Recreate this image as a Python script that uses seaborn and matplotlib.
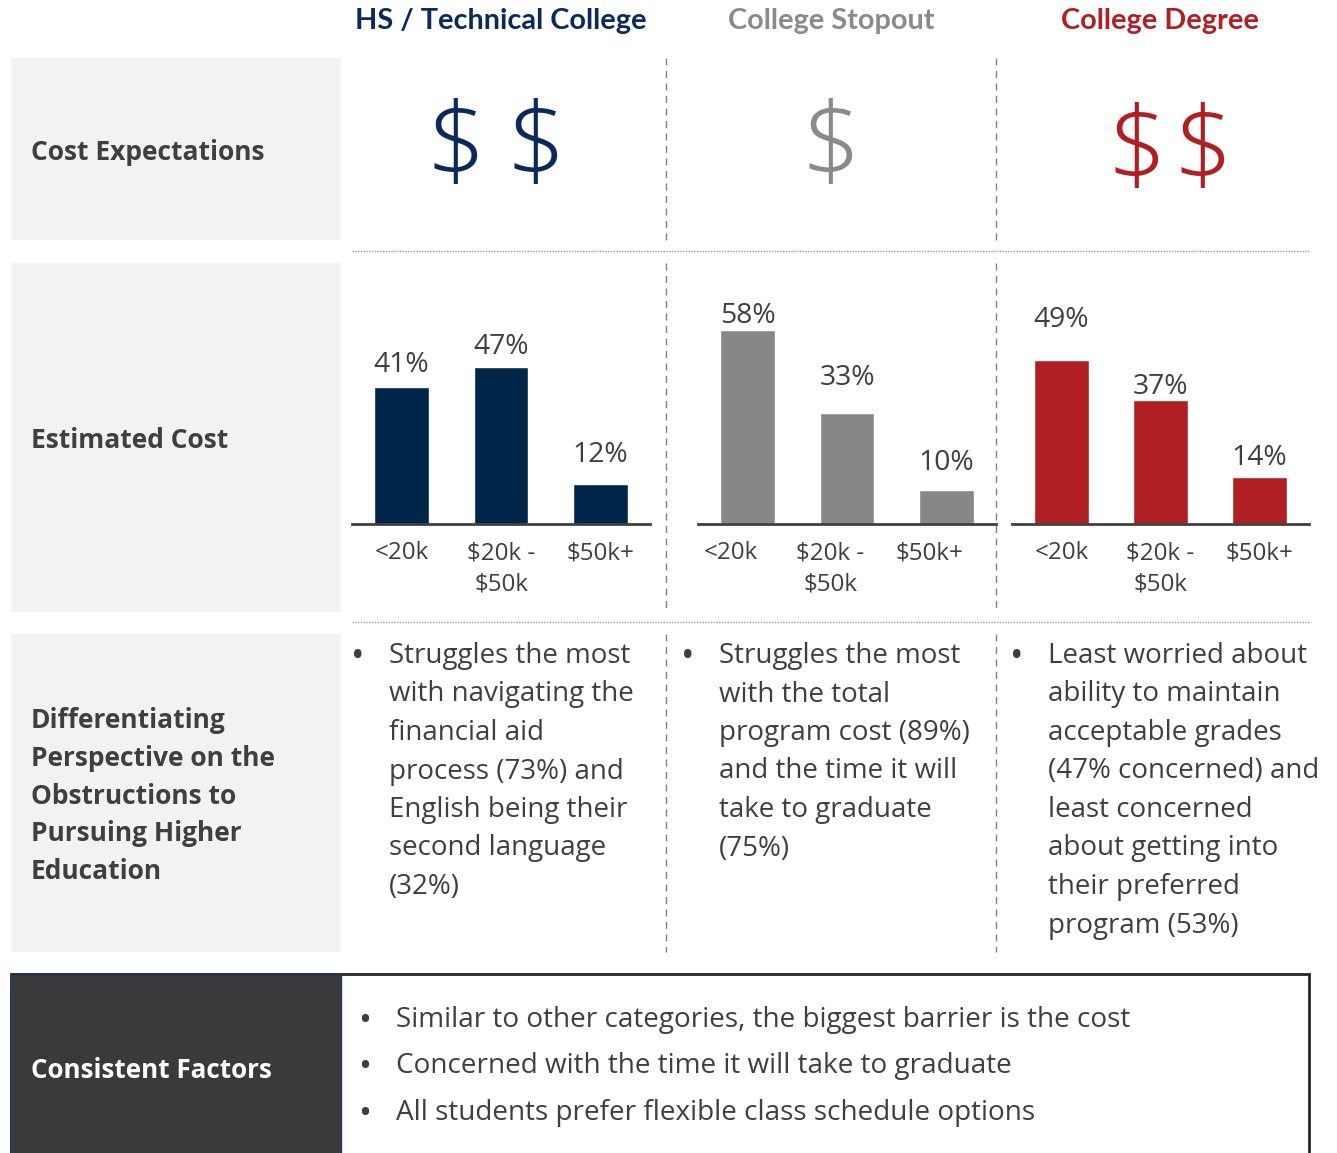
import matplotlib
matplotlib.use("Agg")
import matplotlib.pyplot as plt
from matplotlib.patches import Rectangle
import matplotlib.transforms as mtransforms
import seaborn as sns
import pandas as pd

sns.set_theme(style="white")
plt.rcParams['font.family'] = ['Open Sans', 'DejaVu Sans']

# ---------------- data ----------------
groups = ["HS / Technical College", "College Stopout", "College Degree"]
group_colors = ["#0B2A5B", "#8A8A8A", "#B01F24"]
bar_colors = ["#00264A", "#878886", "#B01F24"]
dollar_counts = [2, 1, 2]
cost_ranges = ["<20k", "$20k -\n$50k", "$50k+"]
hs_pct = [41, 47, 12]
stopout_pct = [58, 33, 10]
degree_pct = [49, 37, 14]
row_labels = ["Cost Expectations", "Estimated Cost",
              "Differentiating\nPerspective on the\nObstructions to\nPursuing Higher\nEducation"]
bottom_label = "Consistent Factors"
hs_bullet = ["Struggles the most", "with navigating the", "financial aid",
             "process (73%) and", "English being their", "second language", "(32%)"]
stopout_bullet = ["Struggles the most", "with the total", "program cost (89%)",
                  "and the time it will", "take to graduate", "(75%)"]
degree_bullet = ["Least worried about", "ability to maintain", "acceptable grades",
                 "(47% concerned) and", "least concerned", "about getting into",
                 "their preferred", "program (53%)"]
consistent = ["Similar to other categories, the biggest barrier is the cost",
              "Concerned with the time it will take to graduate",
              "All students prefer flexible class schedule options"]

# ---------------- layout ----------------
W, H = 1337, 1153
fig = plt.figure(figsize=(W / 100, H / 100), dpi=100)
bg = fig.add_axes([0, 0, 1, 1], zorder=0)
bg.set_xlim(0, W)
bg.set_ylim(H, 0)
bg.axis("off")

TXT = "#3F3F3F"
PANEL = "#F2F2F2"

# left grey panels
for (y0, y1) in [(58, 240), (263, 612), (634, 952)]:
    bg.add_patch(Rectangle((11, y0), 330, y1 - y0, facecolor=PANEL, edgecolor="none"))

# bottom box
bg.add_patch(Rectangle((11, 974), 1298, 200, facecolor="white", edgecolor="#262626", lw=2))
bg.add_patch(Rectangle((11, 975), 330, 200, facecolor="#3A3A3A", edgecolor="#1F3864", lw=1))

# dashed vertical separators
for x in [666, 996]:
    for (y0, y1) in [(58, 240), (263, 612), (634, 952)]:
        bg.plot([x, x], [y0, y1], color="#808080", lw=1, linestyle=(0, (5, 4)))
# dotted horizontal separators
for y in [251, 622]:
    bg.plot([352, 1309], [y, y], color="#9A9A9A", lw=1, linestyle=(0, (1, 1)))

# headers
header_x = [501, 831, 1160]
for gx, g, c in zip(header_x, groups, group_colors):
    bg.text(gx, 21, g, ha="center", va="center", fontsize=20.8, fontweight="bold",
            color=c, family=["Lato", "DejaVu Sans"])

# dollar signs
dollar_pos = [[456, 536], [831], [1137, 1203]]
dollar_y = [151, 151, 154]
for xs, c, n, yy in zip(dollar_pos, group_colors, dollar_counts, dollar_y):
    for x in xs[:n]:
        bg.text(x, yy, "$", ha="center", va="center", fontsize=76, color=c,
                fontweight="light")

# row labels
row_y = [152, 441, 796]
for y, lab in zip(row_y, row_labels):
    bg.text(31, y, lab, ha="left", va="center", fontsize=19, fontweight="bold",
            color=TXT, linespacing=1.52)
bg.text(31, 1070, bottom_label, ha="left", va="center", fontsize=18.7,
        fontweight="bold", color="white")

# bullets in columns
bullet_cols = [(358, 389, hs_bullet), (688, 719, stopout_bullet), (1017, 1048, degree_bullet)]
for bx, tx, lines in bullet_cols:
    bg.text(bx, 667, "•", ha="center", va="baseline", fontsize=26, color=TXT)
    for i, line in enumerate(lines):
        bg.text(tx, 663 + i * 38.5, line, ha="left", va="baseline", fontsize=20, color=TXT)

for i, line in enumerate(consistent):
    y = 1027 + i * 46.5
    bg.text(365, y + 4, "•", ha="center", va="baseline", fontsize=25, color=TXT)
    bg.text(396, y, line, ha="left", va="baseline", fontsize=20.1, color=TXT)

# bar charts
scale = 3.35  # px per percent
ymax = 70
label_offsets_px = [[14.5, 12.5, 21.5], [7, 28, 20], [33, 6, 11.7]]
tick_shift_px = [0, -17, 0]
bar_specs = [(352, 298, hs_pct, bar_colors[0]),
             (698, 298, stopout_pct, bar_colors[1]),
             (1012, 297, degree_pct, bar_colors[2])]
for k, (left, width, vals, col) in enumerate(bar_specs):
    ax = fig.add_axes([left / W, (H - 524) / H, width / W, ymax * scale / H], zorder=2)
    ax.patch.set_alpha(0)
    df = pd.DataFrame({"range": cost_ranges, "pct": vals})
    sns.barplot(data=df, x="range", y="pct", color=col, saturation=1, width=0.55, ax=ax)
    ax.set_ylim(0, ymax)
    ax.set_xlim(-0.5, 2.5)
    ax.set_xlabel("")
    ax.set_ylabel("")
    ax.set_yticks([])
    for s in ["top", "right", "left"]:
        ax.spines[s].set_visible(False)
    ax.spines["bottom"].set_color("#404040")
    ax.spines["bottom"].set_linewidth(2)
    ax.tick_params(axis="x", length=0, pad=12.5, labelsize=17.4, labelcolor=TXT)
    shift = mtransforms.ScaledTranslation(tick_shift_px[k] / 100, 0, fig.dpi_scale_trans)
    for t in ax.get_xticklabels():
        t.set_linespacing(1.42)
        t.set_verticalalignment("top")
        t.set_transform(t.get_transform() + shift)
    for bar, v, off in zip(ax.patches, vals, label_offsets_px[k]):
        ax.annotate(f"{v}%", xy=(bar.get_x() + bar.get_width() / 2, bar.get_height()),
                    xytext=(0, off * 0.72), textcoords="offset points",
                    ha="center", va="baseline", fontsize=20.3, color=TXT)

fig.savefig("out.png", dpi=100)
